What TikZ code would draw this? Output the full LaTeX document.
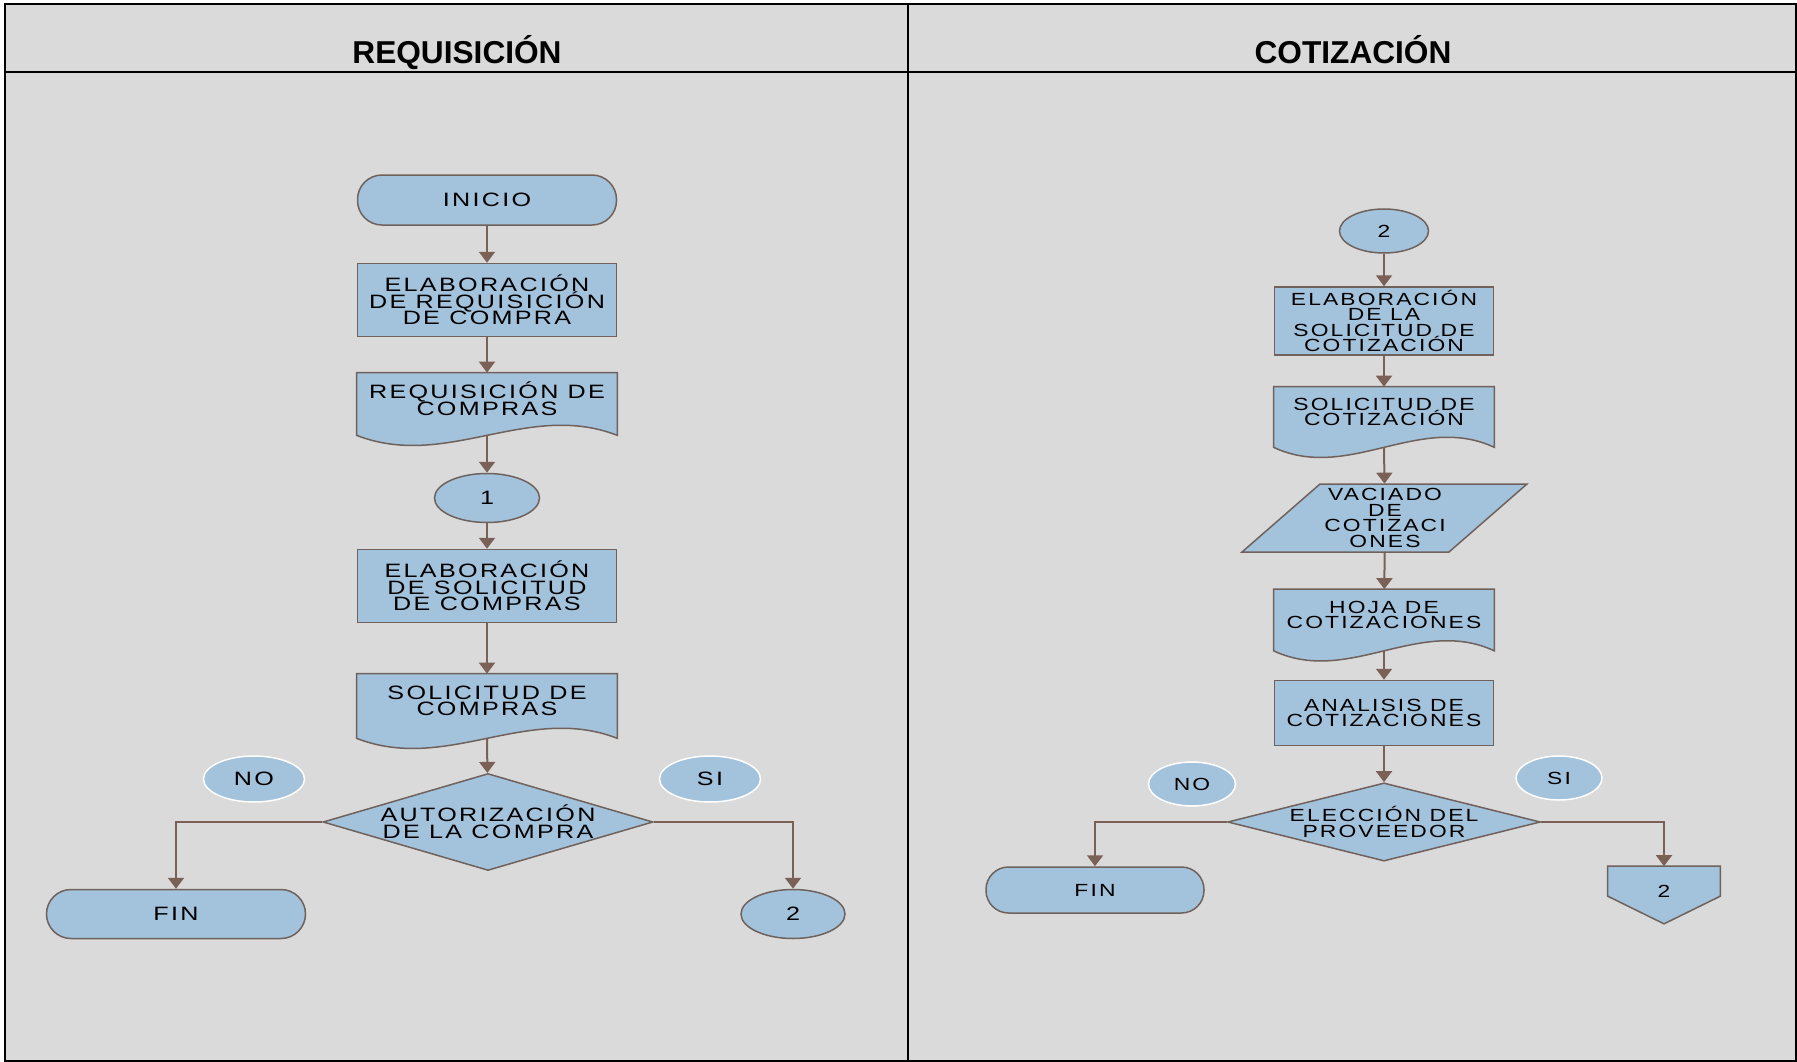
\documentclass[tikz,border=0pt]{standalone}
\usepackage{fontspec}
\setmainfont{Liberation Sans}
\newfontfamily\boxfont[FakeStretch=1.3,LetterSpace=12]{Liberation Sans}
\usetikzlibrary{shapes.geometric,arrows.meta,calc}

\definecolor{fondo}{HTML}{DADADA}
\definecolor{relleno}{HTML}{A3C2DC}
\definecolor{borde}{HTML}{6F625C}
\definecolor{cafe}{HTML}{7A6055}

\newcommand\fuenteA{\boxfont\fontsize{11}{9.5}\selectfont\lineskiplimit-20pt\relax}
\newcommand\fuenteB{\boxfont\fontsize{10}{8.9}\selectfont\lineskiplimit-20pt\relax}

\pgfdeclarelayer{formas}
\pgfsetlayers{formas,main}

\tikzset{
  marco/.style={black, line width=0.45mm},
  titulo/.style={font=\bfseries\fontsize{18}{20}\selectfont, anchor=base},
  letraA/.style={font=\fuenteA},
  letraB/.style={font=\fuenteB},
  forma/.style={draw=borde, fill=relleno, line width=0.3mm},
  caja/.style={forma, rectangle, align=center, inner sep=0pt},
  terminal/.style={caja, rounded corners=4.9mm},
  conector/.style={forma, ellipse, inner sep=0pt},
  etiqueta/.style={ellipse, draw=white, fill=relleno, line width=0.3mm, inner sep=0pt},
  decision/.style={forma, diamond, align=center, inner sep=0pt},
  soloTexto/.style={rectangle, align=center, inner sep=0pt},
  flujo/.style={draw=cafe, line width=0.4mm, -{Triangle[width=3.2mm,length=2.2mm]}}
}

% documento con borde ondulado abajo
\newcommand\hoja[2]{%
  \begin{pgfonlayer}{formas}
    \filldraw[forma] (#1.north west) -- (#1.north east) -- (#1.south east)
      .. controls +(-#2,-35) and +(#2,35) .. (#1.south west) -- cycle;
  \end{pgfonlayer}}

\begin{document}
\begin{tikzpicture}[x=0.2mm, y=-0.2mm]
    \useasboundingbox (0,0) rectangle (1797,1062);
    \begin{pgfonlayer}{formas}
      \fill[white] (0,0) rectangle (1797,1062);
      \fill[fondo] (5,4) rectangle (1796,1061);
    \end{pgfonlayer}

    % Marco y encabezados
    \draw[marco] (5,4) rectangle (1796,1061);
    \draw[marco] (5,72) -- (1796,72);
    \draw[marco] (908,4) -- (908,1061);
    \node[titulo] (t1) at (457,63) {REQUISICIÓN};
    \node[titulo] (t2) at (1353,63) {COTIZACIÓN};

    % Requisición
    \node[terminal, letraA, minimum width=51.8mm, minimum height=10mm] (ini) at (487,200) {INICIO};
    \node[caja, letraA, minimum width=51.8mm, minimum height=14.6mm] (elab1) at (487,300) {ELABORACIÓN\\DE REQUISICIÓN\\DE COMPRA};
    \node[soloTexto, letraA, minimum width=52mm, minimum height=12.4mm] (req) at (487,404) {REQUISICIÓN DE\\COMPRAS\\[-1.2mm]};
    \hoja{req}{90}
    \node[conector, letraA, minimum width=21mm, minimum height=9.8mm] (uno) at (487,498) {1};
    \node[caja, letraA, minimum width=51.8mm, minimum height=14.6mm] (elab2) at (487,586) {ELABORACIÓN\\DE SOLICITUD\\DE COMPRAS};
    \node[soloTexto, letraA, minimum width=52mm, minimum height=12.8mm] (sol) at (487,706) {SOLICITUD DE\\COMPRAS\\[-1.2mm]};
    \hoja{sol}{90}
    \node[decision, aspect=3.4, letraA, minimum width=66mm, minimum height=19.4mm] (aut) at (488,822) {AUTORIZACIÓN\\DE LA COMPRA};
    \node[etiqueta, letraA, minimum width=20.2mm, minimum height=9.2mm] (no1) at (254,779) {NO};
    \node[etiqueta, letraA, minimum width=20.2mm, minimum height=9.2mm] (si1) at (710,779) {SI};
    \node[terminal, letraA, minimum width=51.8mm, minimum height=9.8mm] (fin1) at (176,914) {FIN};
    \node[conector, letraA, minimum width=20.8mm, minimum height=9.8mm] (dos1) at (793,914) {2};

    \draw[flujo] (ini) -- (elab1);
    \draw[flujo] (elab1) -- (req);
    \draw[flujo] (req.south) -- (uno);
    \draw[flujo] (uno) -- (elab2);
    \draw[flujo] (elab2) -- (sol);
    \draw[flujo] (sol.south) -- (aut);
    \draw[flujo] (aut.west) -| (fin1.north);
    \draw[flujo] (aut.east) -| (dos1.north);

    % Cotización
    \node[conector, letraB, minimum width=17.8mm, minimum height=8.8mm] (dos2) at (1384,231) {2};
    \node[caja, letraB, minimum width=43.8mm, minimum height=13.6mm] (elab3) at (1384,321) {ELABORACIÓN\\DE LA\\SOLICITUD DE\\COTIZACIÓN};
    \node[soloTexto, letraB, minimum width=44mm, minimum height=12mm] (solc) at (1384,417) {SOLICITUD DE\\COTIZACIÓN\\[-1.1mm]};
    \hoja{solc}{75}
    \node[soloTexto, letraB, minimum width=41mm, minimum height=13.6mm] (vac) at (1385,518) {VACIADO\\DE\\COTIZACI\\ONES};
    \begin{pgfonlayer}{formas}
      \filldraw[forma] ($(vac.center)+(-65,-34)$) -- ($(vac.center)+(142,-34)$)
        -- ($(vac.center)+(64,34)$) -- ($(vac.center)+(-143,34)$) -- cycle;
    \end{pgfonlayer}
    \node[soloTexto, letraB, minimum width=44mm, minimum height=12.2mm] (hoja) at (1384,620) {HOJA DE\\COTIZACIONES\\[-1.1mm]};
    \hoja{hoja}{75}
    \node[caja, letraB, minimum width=43.8mm, minimum height=13mm] (anal) at (1384,713) {ANALISIS DE\\COTIZACIONES};
    \node[decision, aspect=4, letraB, minimum width=61.2mm, minimum height=15.2mm] (ele) at (1384,822) {ELECCIÓN DEL\\PROVEEDOR};
    \node[etiqueta, letraB, minimum width=17.4mm, minimum height=8.8mm] (no2) at (1192,784) {NO};
    \node[etiqueta, letraB, minimum width=17.2mm, minimum height=8.8mm] (si2) at (1559,778) {SI};
    \node[terminal, letraB, minimum width=43.6mm, minimum height=9.2mm, rounded corners=4.5mm] (fin2) at (1095,890) {FIN};
    \node[soloTexto, letraB, minimum width=22.4mm, minimum height=11.4mm] (sal) at (1664,895) {2\\[-1.5mm]};
    \begin{pgfonlayer}{formas}
      \filldraw[forma] (sal.north west) -- (sal.north east) -- ($(sal.north east)+(0,30)$)
        -- (sal.south) -- ($(sal.north west)+(0,30)$) -- cycle;
    \end{pgfonlayer}

    \draw[flujo] (dos2) -- (elab3);
    \draw[flujo] (elab3) -- (solc);
    \draw[flujo] (solc.south) -- (vac);
    \draw[flujo] (vac) -- (hoja);
    \draw[flujo] (hoja.south) -- (anal);
    \draw[flujo] (anal) -- (ele);
    \draw[flujo] (ele.west) -| (fin2.north);
    \draw[flujo] (ele.east) -| (sal.north);
\end{tikzpicture}
\end{document}
